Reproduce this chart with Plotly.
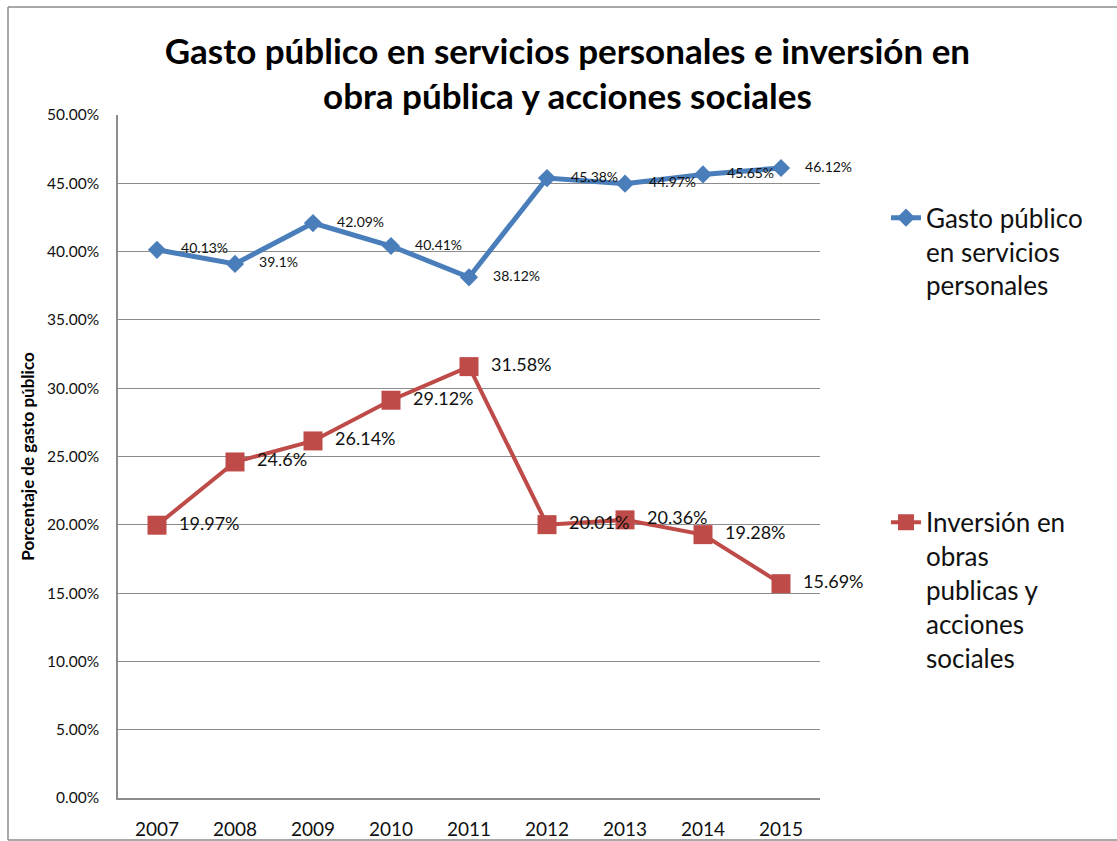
import plotly.graph_objects as go

years = ["2007", "2008", "2009", "2010", "2011", "2012", "2013", "2014", "2015"]
gasto_personal = [40.13, 39.1, 42.09, 40.41, 38.12, 45.38, 44.97, 45.65, 46.12]
inversion_obra = [19.97, 24.6, 26.14, 29.12, 31.58, 20.01, 20.36, 19.28, 15.69]

name_gasto = "Gasto público<br>en servicios<br>personales"
name_inversion = "Inversión en<br>obras<br>publicas y<br>acciones<br>sociales"

FONT = "Lato, 'Open Sans', sans-serif"
BLUE = "#4a7ebb"
RED = "#be4b48"
GRID = "#8c8c8c"
NBSP = "\u00a0"

fig = go.Figure()

# labels sit to the right of each marker; leading no-break spaces push them out a bit
fig.add_trace(go.Scatter(
    x=years, y=gasto_personal, mode="lines+markers+text", name=name_gasto,
    line=dict(color=BLUE, width=5),
    marker=dict(symbol="diamond", size=14, color=BLUE),
    text=[NBSP * 4 + f"{v:g}%" for v in gasto_personal],
    textposition="middle right",
    textfont=dict(family=FONT, size=14, color="#111"),
    legend="legend", cliponaxis=False,
))
fig.add_trace(go.Scatter(
    x=years, y=inversion_obra, mode="lines+markers+text", name=name_inversion,
    line=dict(color=RED, width=4),
    marker=dict(symbol="square", size=19, color=RED),
    text=[NBSP * 2 + f"{v:g}%" for v in inversion_obra],
    textposition="middle right",
    textfont=dict(family=FONT, size=18, color="#111"),
    legend="legend2", cliponaxis=False,
))

# outer chart border (left, top, bottom; the right side runs off the page)
border = dict(color="#8c8c8c", width=1.5)
for x0, y0, x1, y1 in [(-0.1567, -0.0615, -0.1567, 1.158),
                       (-0.1567, 1.158, 1.6, 1.158),
                       (-0.1567, -0.0615, 1.6, -0.0615)]:
    fig.add_shape(type="line", xref="paper", yref="paper",
                  x0=x0, y0=y0, x1=x1, y1=y1, line=border)

fig.update_layout(
    width=1117, height=841,
    margin=dict(l=118, r=297, t=115, b=43, autoexpand=False),
    paper_bgcolor="white", plot_bgcolor="white",
    font=dict(family=FONT, color="#111"),
    title=dict(
        text="<b>Gasto público en servicios personales e inversión en<br>obra pública y acciones sociales</b>",
        x=0.508, xanchor="center", y=0.924, yanchor="top",
        font=dict(family=FONT, size=35, color="#000"),
    ),
    xaxis=dict(
        type="category", range=[-0.5, 8.5], automargin=False,
        showgrid=False, showline=True, linecolor=GRID, linewidth=1.5,
        ticks="", ticklabelstandoff=13,
        tickfont=dict(family=FONT, size=19, color="#111"),
    ),
    yaxis=dict(
        range=[0, 50], dtick=5, tickformat=".2f", ticksuffix="%", automargin=False,
        showgrid=True, gridcolor=GRID, gridwidth=1.4,
        showline=True, linecolor=GRID, linewidth=1.5, zeroline=False,
        ticks="", ticklabelstandoff=14,
        tickfont=dict(family=FONT, size=15.5, color="#111"),
        title=dict(text="<b>Porcentaje de gasto público</b>", standoff=8,
                   font=dict(family=FONT, size=17, color="#000")),
    ),
    showlegend=True,
    legend=dict(x=1.094, y=0.884, xanchor="left", yanchor="top", valign="top",
                font=dict(family=FONT, size=26, color="#111"), bgcolor="rgba(0,0,0,0)"),
    legend2=dict(x=1.094, y=0.438, xanchor="left", yanchor="top", valign="top",
                 font=dict(family=FONT, size=26, color="#111"), bgcolor="rgba(0,0,0,0)"),
)

# drop the default page margin so the figure fills the window
fig.write_html("out.html", config={"displayModeBar": False},
               post_script="document.body.style.margin='0';document.body.style.overflow='hidden';")
